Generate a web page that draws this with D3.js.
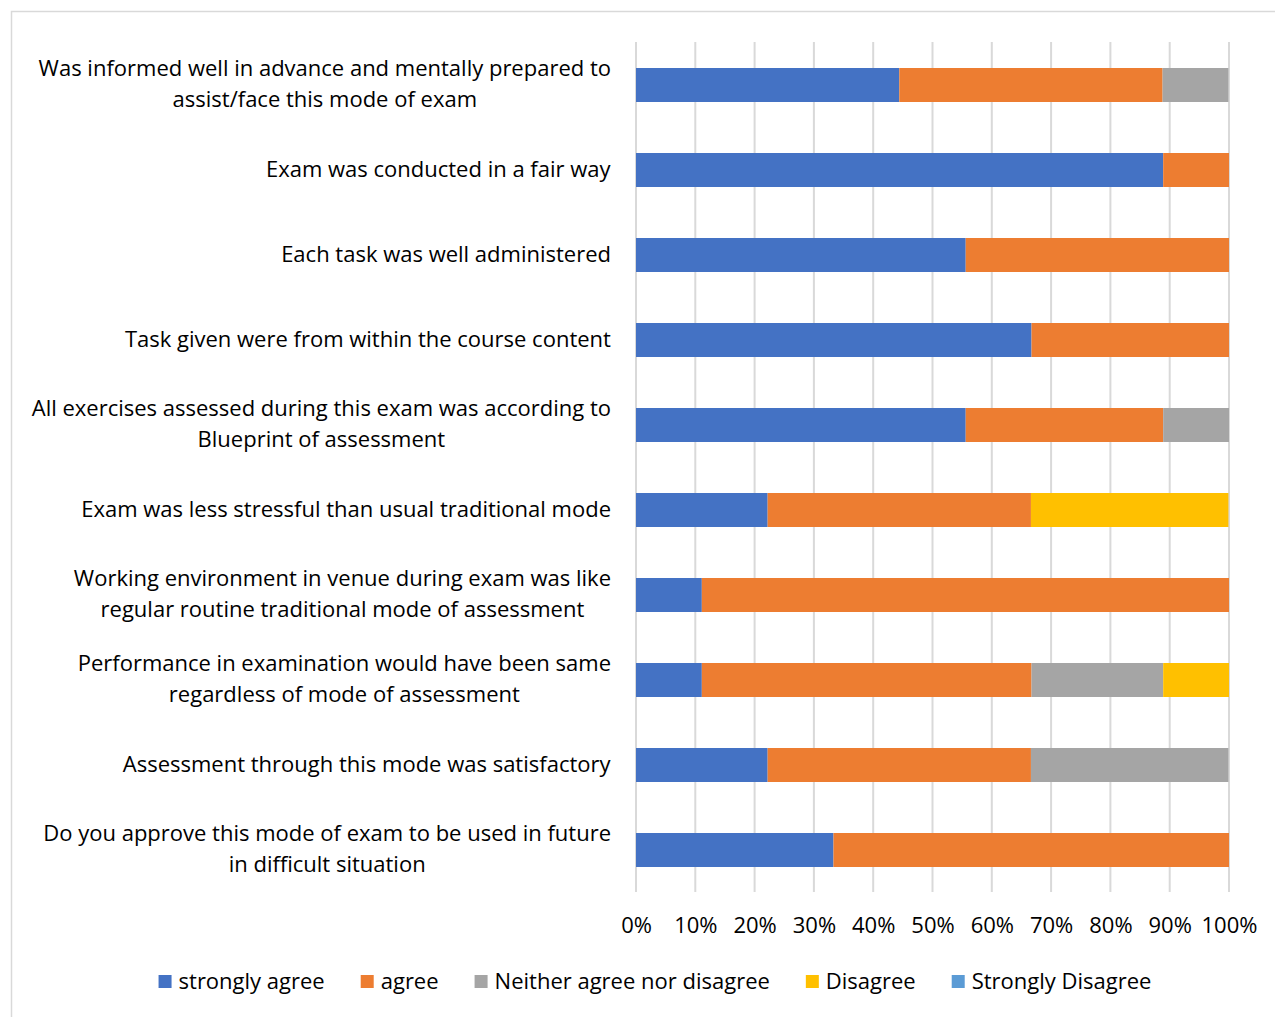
<!DOCTYPE html>
<html>
<head>
<meta charset="utf-8">
<script src="https://cdn.jsdelivr.net/npm/d3@7"></script>
<style>
  body { margin: 0; background: #fff; }
  svg text { font-family: "Open Sans", Lato, sans-serif; fill: #000; }
</style>
</head>
<body>
<svg width="1275" height="1017"></svg>
<script>
// statements, top to bottom ("\n" marks the line break)
const questions = [
    "Was informed well in advance and mentally prepared to\nassist/face this mode of exam",
    "Exam was conducted in a fair way",
    "Each task was well administered",
    "Task given were from within the course content",
    "All exercises assessed during this exam was according to\nBlueprint of assessment",
    "Exam was less stressful than usual traditional mode",
    "Working environment in venue during exam was like\nregular routine traditional mode of assessment",
    "Performance in examination would have been same\nregardless of mode of assessment",
    "Assessment through this mode was satisfactory",
    "Do you approve this mode of exam to be used in future\nin difficult situation"
];
const responses = ["strongly agree", "agree", "Neither agree nor disagree", "Disagree", "Strongly Disagree"];
const colors = ["#4472C4", "#ED7D31", "#A5A5A5", "#FFC000", "#5B9BD5"];

// percent of answers per statement
const stronglyAgree = [44.4, 88.9, 55.6, 66.7, 55.6, 22.2, 11.1, 11.1, 22.2, 33.3];
const agree         = [44.4, 11.1, 44.4, 33.3, 33.3, 44.4, 88.9, 55.6, 44.4, 66.7];
const neither       = [11.1, 0, 0, 0, 11.1, 0, 0, 22.2, 33.3, 0];
const disagree      = [0, 0, 0, 0, 0, 33.3, 0, 11.1, 0, 0];
const stronglyDis   = [0, 0, 0, 0, 0, 0, 0, 0, 0, 0];

const xTicks = [0, 10, 20, 30, 40, 50, 60, 70, 80, 90, 100];

var fs = "22px";

var rows = questions.map(function (q, i) {
    return {
        q: q,
        "strongly agree": stronglyAgree[i],
        "agree": agree[i],
        "Neither agree nor disagree": neither[i],
        "Disagree": disagree[i],
        "Strongly Disagree": stronglyDis[i]
    };
});

var svg = d3.select("svg");

// chart frame
svg.append("rect")
    .attr("x", 11.5).attr("y", 11.5)
    .attr("width", 1275).attr("height", 1017)
    .attr("fill", "none")
    .attr("stroke", "#d9d9d9")
    .attr("stroke-width", 1.5);

var xScale = d3.scaleLinear().domain([0, 100]).range([636, 1229]);
var yScale = d3.scaleBand().domain(questions).range([42.5, 892.5])
    .paddingInner(0.6).paddingOuter(0.3);

// gridlines
svg.append("g")
    .selectAll("line")
    .data(xTicks)
    .enter().append("line")
    .attr("x1", function (d) { return xScale(d); })
    .attr("x2", function (d) { return xScale(d); })
    .attr("y1", 42)
    .attr("y2", 892)
    .attr("stroke", "#d9d9d9")
    .attr("stroke-width", 2);

// stacked bars
var stack = d3.stack().keys(responses);
var series = stack(rows);

svg.append("g")
    .selectAll("g")
    .data(series)
    .enter().append("g")
    .attr("fill", function (d, i) { return colors[i]; })
    .selectAll("rect")
    .data(function (d) { return d; })
    .enter().append("rect")
    .attr("x", function (d) { return xScale(d[0]); })
    .attr("y", function (d) { return yScale(d.data.q); })
    .attr("width", function (d) { return xScale(d[1]) - xScale(d[0]); })
    .attr("height", yScale.bandwidth());

// x tick labels
var xAxis = svg.append("g")
    .attr("transform", "translate(0,925)")
    .call(d3.axisBottom(xScale).tickValues(xTicks).tickSize(0).tickPadding(0)
        .tickFormat(function (d) { return d + "%"; }));
xAxis.select(".domain").remove();
xAxis.selectAll("text")
    .attr("y", 0)
    .attr("dy", "0.35em")
    .attr("font-size", fs)
    .attr("font-family", "'Open Sans', Lato, sans-serif");

// category labels: block right-aligned, lines centred inside it
var lab = svg.append("g");
questions.forEach(function (q) {
    var lines = q.split("\n");
    var cy = yScale(q) + yScale.bandwidth() / 2;
    var lh = 31;
    var t = lab.append("text")
        .attr("font-size", fs)
        .attr("text-anchor", "middle");
    lines.forEach(function (l, j) {
        t.append("tspan")
            .attr("x", 0)
            .attr("y", cy + (j - (lines.length - 1) / 2) * lh - 1)
            .attr("dy", "0.35em")
            .text(l);
    });
    var w = t.node().getBBox().width;
    t.attr("transform", "translate(" + (611 - w / 2) + ",0)");
});

// legend
var legend = svg.append("g");
var lx = 0;
responses.forEach(function (r, i) {
    var item = legend.append("g").attr("transform", "translate(" + lx + ",0)");
    item.append("rect")
        .attr("x", 0).attr("y", -6)
        .attr("width", 13).attr("height", 13)
        .attr("fill", colors[i]);
    var t = item.append("text")
        .attr("x", 20)
        .attr("dy", "0.35em")
        .attr("font-size", fs)
        .text(r);
    lx += 20 + t.node().getBBox().width + 36;
});
var lw = lx - 36;
legend.attr("transform", "translate(" + ((152 + 1158) / 2 - lw / 2) + ",981)");
</script>
</body>
</html>
